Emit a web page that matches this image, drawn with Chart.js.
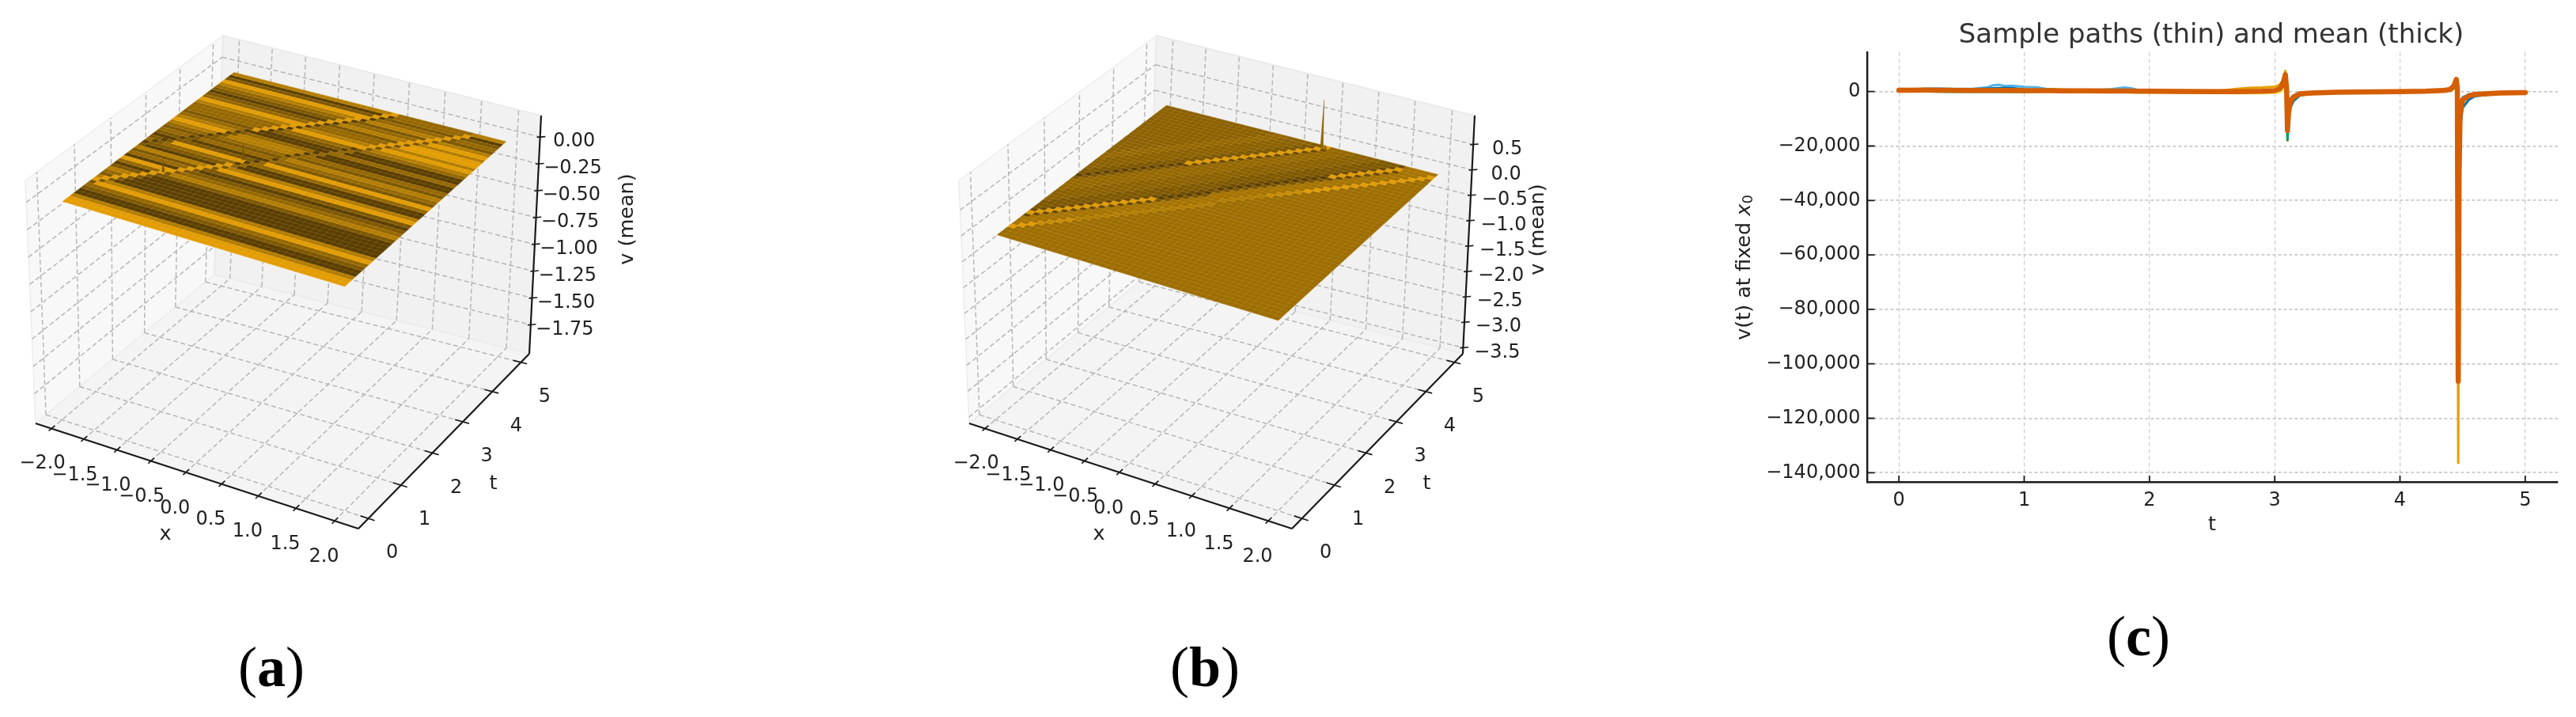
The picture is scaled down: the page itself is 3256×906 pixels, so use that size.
<!DOCTYPE html>
<html><head><meta charset="utf-8">
<style>
html,body{margin:0;padding:0;background:#fff;width:3256px;height:906px;overflow:hidden}
canvas{position:absolute;top:0}
.cap{position:absolute;font-family:"Liberation Serif",serif;font-size:72px;line-height:80px;color:#000;transform:translate(-50%,-50%);white-space:nowrap}
.cap b{font-weight:700}
</style>
<script src="https://cdn.jsdelivr.net/npm/chart.js@4/dist/chart.umd.js"></script>
</head><body>
<canvas id="pa" width="1100" height="906" style="left:0"></canvas>
<canvas id="pb" width="900" height="906" style="left:1180px"></canvas>
<canvas id="pc" width="1270" height="906" style="left:2160px"></canvas>
<div class="cap" style="left:343px;top:843px">(<b>a</b>)</div>
<div class="cap" style="left:1523px;top:843px">(<b>b</b>)</div>
<div class="cap" style="left:2703px;top:804px">(<b>c</b>)</div>
<script>
/* ---------- DATA ---------- */
// panel (c): sample paths and mean at fixed x0
const tSamples=[0,.1,.2,.3,.4,.5,.6,.7,.75,.8,.85,.9,1,1.1,1.2,1.3,1.5,1.7,1.8,1.85,1.9,2,2.2,2.5,2.7,2.8,2.9,3,3.04,3.07,3.085,3.095,3.102,3.11,3.125,3.15,3.2,3.3,3.5,4,4.2,4.35,4.4,4.43,4.45,4.458,4.465,4.472,4.48,4.5,4.55,4.6,4.8,5];
const meanPath=[500,500,550,500,500,450,450,400,400,400,400,400,350,350,350,300,250,200,200,180,150,100,50,0,0,50,100,350,1000,3500,6200,1000,-14300,-8000,-3600,-2000,-800,-500,-250,0,100,400,800,2000,4500,1000,-106400,-30000,-8000,-3000,-1600,-1000,-500,-350];
const skyPath=[600,700,800,800,900,1000,1100,1500,2300,2500,2000,2200,1700,1600,800,600,300,900,1500,1200,700,300,200,100,50,100,200,300,800,2500,4500,800,-12000,-6000,-2500,-1500,-700,-400,-200,0,100,300,600,1500,3500,800,-60000,-15000,-5000,-2000,-1000,-700,-400,-300];
const bluePath=[400,800,1000,1100,1000,800,900,1100,1200,1300,1400,1300,800,500,300,300,200,300,400,300,200,100,50,0,0,30,50,200,600,2000,5000,600,-13000,-9000,-6000,-3500,-1400,-700,-300,0,50,200,500,1500,3000,300,-90000,-40000,-14000,-6000,-3000,-1700,-700,-400];
const greenPath=[300,200,100,0,-50,-100,-100,-100,-100,-100,-100,-100,-50,0,50,100,100,100,100,100,100,50,0,0,0,0,50,200,600,2000,4500,-1000,-17800,-9000,-3000,-1500,-700,-400,-200,0,50,200,400,1200,2500,200,-100000,-30000,-7000,-2500,-1300,-900,-450,-300];
const yellowPath=[700,800,600,300,200,100,0,-100,-100,-100,-100,-200,100,200,300,200,100,0,-200,-300,-300,-300,-400,-500,-600,-600,-600,-500,-300,1000,3000,-800,-15000,-8000,-4000,-2500,-1500,-800,-400,-100,0,100,300,800,2000,-500,-80000,-30000,-9000,-4500,-2200,-1400,-600,-400];
const orangePath=[600,700,700,500,400,300,300,200,200,200,300,300,400,500,900,700,400,300,200,200,100,100,50,0,1000,1400,1500,1800,2500,4500,7600,500,-18000,-8000,-3200,-1800,-800,-400,-200,0,100,300,700,1800,4000,-2000,-136400,-40000,-6000,-2500,-1300,-900,-400,-300];
const yTickValues=[0,-20000,-40000,-60000,-80000,-100000,-120000,-140000];
const xTickValues=[0,1,2,3,4,5];

// panels (a),(b): axis ticks
const xTicks3d=[-2,-1.5,-1,-.5,0,.5,1,1.5,2];
const tTicks3d=[0,1,2,3,4,5];
const zTicksA=[0,-.25,-.5,-.75,-1,-1.25,-1.5,-1.75];
const zTicksB=[.5,0,-.5,-1,-1.5,-2,-2.5,-3,-3.5];

// surface shade levels (0 dark .. 9 bright) per t-row
const aBelowLower=[9,9,7,0,0,2,4,9,7,0,0,0,0,0,2,7,4,2,0,2,9,7,0,0,4,9,2,4,7,2,4,0,0,4,0,0,4,7,9,7,9,9,7,9,7,2,4,2,0,7];
const aBetween=[4,4,4,4,4,4,4,4,4,7,2,4,7,2,0,4,9,0,4,2,7,0,2,4,9,2,0,4,2,4,7,7,4,0,0,2,4,9,7,4,4,2,7,4,2,7,4,2,4,4];
const aAboveUpper=[4,4,4,4,4,4,4,4,4,4,4,4,4,4,4,4,4,4,4,4,4,4,4,4,2,0,2,4,2,4,7,9,7,4,2,4,4,4,7,9,4,2,0,2,4,7,9,2,0,7];
// ridge row for every x-column
const upperRidge=[22,23,24,25,26,27,28,29,30,31,32,33,34,35,36,37,38,39,40,41,42,43,44,45,46,47,48,49];
const lowerRidge=[8,9,10,11,12,13,14,15,16,17,18,19,20,21,22,23,24,25,26,27,29,30,31,32,33,34,35,36,37,38,39,40,41,42,43,44,45,46,47,48];
const thirdRidge=[3,4,5,6,7,8,9,10,11,12,13,14,15,16,17,18,19,20,21,22,23,24,26,27,28,29,30,31,32,33,34,35,36,37,38,39,40,41,42,43,44,45,46,47,48];
// ridge shade per column
const aUpperShade=[0,0,0,0,0,0,0,0,0,0,0,0,9,9,9,9,9,9,9,9,9,9,9,9,9,9,9,9];
const aLowerShade=[9,9,9,9,9,9,9,9,9,9,9,9,9,9,9,0,0,0,0,0,0,0,0,0,0,0,0,0,9,9,9,9,9,9,9,9,9,9,9,9];
const bUpperShade=[0,0,0,0,0,0,0,0,0,0,0,0,9,9,9,9,9,9,9,9,9,9,9,9,9,9,9,9];
const bLowerShade=[9,9,9,9,9,9,9,9,9,9,9,9,9,9,0,0,0,0,0,0,0,0,0,0,0,0,0,0,0,0,0,0,9,9,9,9,9,9,9,9];
const bThirdShade=[9,9,9,8,8,8,8,7,7,7,7,7,7,7,7,7,7,7,7,7,7,7,7,7,7,7,7,8,8,8,8,9,9,9,9,9,9,9,9,9,9,9,9,9,9];
// panel (b) base shades by distance from the ridge beneath / by band
const bAboveUpperByOffset=[2,2,3,3,3,3,4,4];
const bBetweenByOffset=[1,2,2,2,3,3,3,3,4,4,4,4,5,5];
const bBelowLowerShade=6, bBelowThirdShade=5;
// spikes: x, t, v
const spikesA=[[-1.32,1.55,.11],[-.62,2.5,.15]];
const spikesB=[[.4,4.9,.95],[-.36,4.1,.23],[-.6,2.45,.52],[.34,3.6,.2],[-1.11,3.25,.12],[-1.33,1.6,.15],[-1.86,2.4,.12],[.45,4.9,.08]];

/* ---------- STYLE / VIEW ---------- */
const shadeColors=['#5a3e00','#6e4c00','#7d5700','#8a6000','#946700','#9c6d00','#a57300','#b37d00','#c98c00','#e39c00'];
const FONT='"DejaVu Sans"';
const view={xLim:[-2.25,2.3],tLim:[-.3,5.3],
  floor:[[45,535],[453,668],[669,447],[271,347]],
  top:[[32,228],[452,355],[684,146],[282,45]],
  surfX:[-1.88,2],surfT:[0,4.92]};
const Nx=45,Nt=50;

function quad(p){ // unit square -> quad [p00,p10,p11,p01]
  const [a,b,c,d]=p;
  const dx1=b[0]-c[0],dx2=d[0]-c[0],sx=a[0]-b[0]+c[0]-d[0];
  const dy1=b[1]-c[1],dy2=d[1]-c[1],sy=a[1]-b[1]+c[1]-d[1];
  const den=dx1*dy2-dx2*dy1,g=(sx*dy2-dx2*sy)/den,h=(dx1*sy-sx*dy1)/den;
  const A=b[0]-a[0]+g*b[0],B=d[0]-a[0]+h*d[0],D=b[1]-a[1]+g*b[1],E=d[1]-a[1]+h*d[1];
  return (u,v)=>{const w=g*u+h*v+1;return [(A*u+B*v+a[0])/w,(D*u+E*v+a[1])/w];};
}
const H0=quad(view.floor),H1=quad(view.top);

class MeshController extends Chart.LineController{
  static id='mesh';
  static defaults=Chart.LineController.defaults;
  draw(){
    const pts=this._cachedMeta.data,ds=this.getDataset(),ctx=this._ctx,n=ds.chunk||2;
    ctx.save();ctx.lineJoin='round';
    ctx.setLineDash(ds.dash||[]);
    ctx.beginPath();
    for(let i=0;i+n<=pts.length;i+=n){
      ctx.moveTo(pts[i].x,pts[i].y);
      for(let j=1;j<n;j++)ctx.lineTo(pts[i+j].x,pts[i+j].y);
      if(n>2)ctx.closePath();
    }
    if(ds.paintFill){ctx.fillStyle=ds.paintFill;ctx.fill();}
    if(ds.paintStroke){ctx.strokeStyle=ds.paintStroke;ctx.lineWidth=ds.paintWidth||1;ctx.stroke();}
    ctx.restore();
  }
}
Chart.register(MeshController);

function panel3d(id,W,zLim,zTicks,shadeAt,spikes,spikeCol,zOff,zLabelX,zLabelY){
  const P=(x,t,z)=>{
    const u=(x-view.xLim[0])/(view.xLim[1]-view.xLim[0]),v=(t-view.tLim[0])/(view.tLim[1]-view.tLim[0]),w=(z-zLim[0])/(zLim[1]-zLim[0]);
    const a=H0(u,v),b=H1(u,v);
    return {x:a[0]*(1-w)+b[0]*w,y:a[1]*(1-w)+b[1]*w};
  };
  // the surface itself is placed on the view's calibrated footprint
  const S=(x,t,z)=>P(view.surfX[0]+(x+2)/4*(view.surfX[1]-view.surfX[0]),view.surfT[0]+t/5*(view.surfT[1]-view.surfT[0]),z);
  const [x0,x1]=view.xLim,[t0,t1]=view.tLim,[z0,z1]=zLim;
  const sets=[];
  const add=(chunk,data,o)=>sets.push(Object.assign({type:'mesh',chunk,data,pointRadius:0,borderWidth:0,showLine:false},o));
  // panes
  add(4,[P(x0,t0,z0),P(x0,t1,z0),P(x0,t1,z1),P(x0,t0,z1)],{paintFill:'#f8f8f8',paintStroke:'#ececec',paintWidth:1.5});
  add(4,[P(x0,t1,z0),P(x1,t1,z0),P(x1,t1,z1),P(x0,t1,z1)],{paintFill:'#f1f1f1',paintStroke:'#e8e8e8',paintWidth:1.5});
  add(4,[P(x0,t0,z0),P(x1,t0,z0),P(x1,t1,z0),P(x0,t1,z0)],{paintFill:'#f4f4f4',paintStroke:'#ececec',paintWidth:1.5});
  // grid
  const g=[];
  xTicks3d.forEach(x=>{g.push(P(x,t0,z0),P(x,t1,z0),P(x,t1,z0),P(x,t1,z1));});
  tTicks3d.forEach(t=>{g.push(P(x0,t,z0),P(x1,t,z0),P(x0,t,z0),P(x0,t,z1));});
  zTicks.forEach(z=>{g.push(P(x0,t0,z),P(x0,t1,z),P(x0,t1,z),P(x1,t1,z));});
  add(2,g,{paintStroke:'#b6b6b6',paintWidth:1.5,dash:[6,3.5]});
  // surface
  const dx=4/Nx,dt=5/Nt,byShade=shadeColors.map(()=>[]);
  for(let r=0;r<Nt;r++){
    let c=0;
    while(c<Nx){
      const s=shadeAt(c,r);let e=c+1;
      while(e<Nx&&shadeAt(e,r)===s)e++;
      const xa=-2+c*dx,xb=-2+e*dx,ta=r*dt,tb=(r+1)*dt;
      byShade[s].push(S(xa,ta,0),S(xb,ta,0),S(xb,tb,0),S(xa,tb,0));
      c=e;
    }
  }
  byShade.forEach((d,i)=>{if(d.length)add(4,d,{paintFill:shadeColors[i],paintStroke:shadeColors[i],paintWidth:.5});});
  // mesh lines
  const m=[];
  for(let c=0;c<=Nx;c++)m.push(S(-2+c*dx,0,0),S(-2+c*dx,5,0));
  for(let r=0;r<=Nt;r++)m.push(S(-2,r*dt,0),S(2,r*dt,0));
  add(2,m,{paintStroke:'rgba(255,225,170,.17)',paintWidth:.8});
  // spikes
  const sp=[];
  spikes.forEach(([x,t,v])=>{sp.push(S(x-.02,t,0),S(x+.02,t,0),S(x,t,v));});
  add(3,sp,{paintFill:spikeCol,paintStroke:spikeCol,paintWidth:.4});
  // axes
  add(2,[P(x0,t0,z0),P(x1,t0,z0),P(x1,t0,z0),P(x1,t1,z0),P(x1,t1,z0),P(x1,t1,z1)],{paintStroke:'#1a1a1a',paintWidth:2.2});
  const tk=[];
  xTicks3d.forEach(x=>tk.push(P(x,t0-.08,z0),P(x,t0+.1,z0)));
  tTicks3d.forEach(t=>tk.push(P(x1-.1,t,z0),P(x1+.08,t,z0)));
  zTicks.forEach(z=>tk.push(P(x1-.03,t1-.03,z),P(x1+.05,t1+.05,z)));
  add(2,tk,{paintStroke:'#1a1a1a',paintWidth:1.6});

  const labels={
    id:'labels3d',
    afterDraw(ch){
      const ctx=ch.ctx,sx=ch.scales.x,sy=ch.scales.y;
      const at=p=>[sx.getPixelForValue(p.x),sy.getPixelForValue(p.y)];
      ctx.save();ctx.fillStyle='#222';ctx.textAlign='center';ctx.textBaseline='middle';
      ctx.font='24px '+FONT;
      const m=v=>String(v).replace('-','\u2212');
      xTicks3d.forEach(x=>{const [a,b]=at(P(x,t0,z0));ctx.fillText(m(x.toFixed(1)),a-13.5+ (x<0?2:0),b+45.5+(x===-2?-1:0));});
      tTicks3d.forEach(t=>{const [a,b]=at(P(x1,t,z0));ctx.fillText(String(t),a+30,b+44);});
      zTicks.forEach(z=>{const [a,b]=at(P(x1,t1,z));ctx.fillText(m(z.toFixed(zOff)),a+43,b+6);});
      ctx.font='25.5px '+FONT;
      ctx.fillText('x',209,675);
      ctx.fillText('t',623.5,611);
      ctx.translate(zLabelX,zLabelY);ctx.rotate(-Math.PI/2);ctx.fillText('v (mean)',0,0);
      ctx.restore();
    }
  };
  return new Chart(document.getElementById(id),{
    type:'scatter',
    data:{datasets:sets.reverse()},
    plugins:[labels],
    options:{responsive:false,animation:false,devicePixelRatio:1,events:[],
      layout:{padding:0},
      plugins:{legend:{display:false},tooltip:{enabled:false},title:{display:false}},
      scales:{x:{type:'linear',display:false,min:0,max:W},y:{type:'linear',display:false,min:0,max:906,reverse:true}}}
  });
}

const get=(arr,c)=>arr[c]===undefined?99:arr[c];
function shadeA(c,r){
  const u=get(upperRidge,c),l=get(lowerRidge,c);
  if(r===u)return aUpperShade[c];
  if(r===l)return aLowerShade[c];
  if(r===u-1)return aUpperShade[c]===9?0:2;
  if(r===l-1)return aLowerShade[c]===9?2:4;
  if(r>u)return aAboveUpper[r];
  if(r>l)return aBetween[r];
  return aBelowLower[r];
}
function shadeB(c,r){
  const u=get(upperRidge,c),l=get(lowerRidge,c),h=get(thirdRidge,c);
  if(r===u)return bUpperShade[c];
  if(r===l)return bLowerShade[c];
  if(r===h)return bThirdShade[c];
  if(r===u-1)return bUpperShade[c]===9?1:2;
  if(r===l-1)return bLowerShade[c]===9?1:2;
  if(r>u){const d=r-u-1;return d<bAboveUpperByOffset.length?bAboveUpperByOffset[d]:3;}
  if(r>l){const d=r-l-1;return d<bBetweenByOffset.length?bBetweenByOffset[d]:5;}
  if(r>h)return bBelowLowerShade;
  return bBelowThirdShade;
}
panel3d('pa',1100,[-2.02,.2],zTicksA,shadeA,spikesA,'#7a5500',2,793,277);
panel3d('pb',900,[-3.62,1.07],zTicksB,shadeB,spikesB,'#8f6400',1,764,290);

/* ---------- PANEL C ---------- */
const series=(v)=>v.map((y,i)=>({x:tSamples[i],y}));
const thin=(data,c)=>({data:series(data),borderColor:c,borderWidth:3,pointRadius:0,tension:0,showLine:true,borderJoinStyle:'round',borderCapStyle:'round',fill:false});
const cExtras={
  id:'cExtras',
  afterLayout(ch){ if(ch.titleBlock){ch.titleBlock.left=0;ch.titleBlock.right=ch.width;} },
  afterDraw(ch){
    const ctx=ch.ctx,X=ch.scales.x,Y=ch.scales.y,a=ch.chartArea;
    ctx.save();ctx.strokeStyle='#1a1a1a';ctx.lineWidth=1.8;ctx.beginPath();
    X.ticks.forEach(t=>{const p=X.getPixelForValue(t.value);ctx.moveTo(p,a.bottom);ctx.lineTo(p,a.bottom-8);});
    Y.ticks.forEach(t=>{const p=Y.getPixelForValue(t.value);ctx.moveTo(a.left,p);ctx.lineTo(a.left+9,p);});
    ctx.stroke();
    ctx.fillStyle='#222';ctx.textBaseline='middle';ctx.textAlign='center';ctx.font='25.5px '+FONT;
    ctx.fillText('t',2796-2160,663);
    ctx.translate(2205-2160,338);ctx.rotate(-Math.PI/2);ctx.textAlign='left';
    const s1='v(t) at fixed ';const w1=ctx.measureText(s1).width;
    ctx.font='italic 25.5px '+FONT;const w2=ctx.measureText('x').width;
    ctx.font='18px '+FONT;const w3=ctx.measureText('0').width;
    let p=-(w1+w2+w3)/2;
    ctx.font='25.5px '+FONT;ctx.fillText(s1,p,0);p+=w1;
    ctx.font='italic 25.5px '+FONT;ctx.fillText('x',p,0);p+=w2;
    ctx.font='18px '+FONT;ctx.fillText('0',p,5);
    ctx.restore();
  }
};
new Chart(document.getElementById('pc'),{
  type:'scatter',
  data:{datasets:[
    Object.assign(thin(meanPath,'#D55E00'),{borderWidth:6.5}),
    thin(greenPath,'#009E73'),
    thin(bluePath,'#0072B2'),
    thin(skyPath,'#56B4E9'),
    thin(orangePath,'#E69F00'),
    thin(yellowPath,'#F0E442')
  ]},
  plugins:[cExtras],
  options:{responsive:false,animation:false,devicePixelRatio:1,events:[],
    layout:{padding:{left:0,top:0,right:197,bottom:0}},
    plugins:{legend:{display:false},tooltip:{enabled:false},
      title:{display:true,text:'Sample paths (thin) and mean (thick)',color:'#333',font:{family:'DejaVu Sans',size:34,weight:'normal',lineHeight:1.2},padding:{top:25,bottom:.2}}},
    scales:{
      x:{type:'linear',min:-.25,max:5.26,afterFit:s=>{s.height=297;},
        afterBuildTicks:s=>{s.ticks=xTickValues.map(v=>({value:v}));},
        border:{display:true,color:'#1a1a1a',width:2.4,dash:[5,3.5]},
        grid:{color:'#cfcfcf',lineWidth:1.3,drawTicks:false},
        ticks:{color:'#222',padding:9,maxRotation:0,autoSkip:false,font:{family:'DejaVu Sans',size:24},callback:v=>String(v)}},
      y:{type:'linear',min:-143400,max:14450,afterFit:s=>{s.width=200.6;},
        afterBuildTicks:s=>{s.ticks=yTickValues.map(v=>({value:v}));},
        border:{display:true,color:'#1a1a1a',width:2.4,dash:[4,3]},
        grid:{color:'#c8c8c8',lineWidth:1.7,drawTicks:false},
        ticks:{color:'#222',padding:9,autoSkip:false,font:{family:'DejaVu Sans',size:24},
          callback:v=>Number(v).toLocaleString('en-US').replace('-','\u2212')}}
    }}
});
</script>
</body></html>
